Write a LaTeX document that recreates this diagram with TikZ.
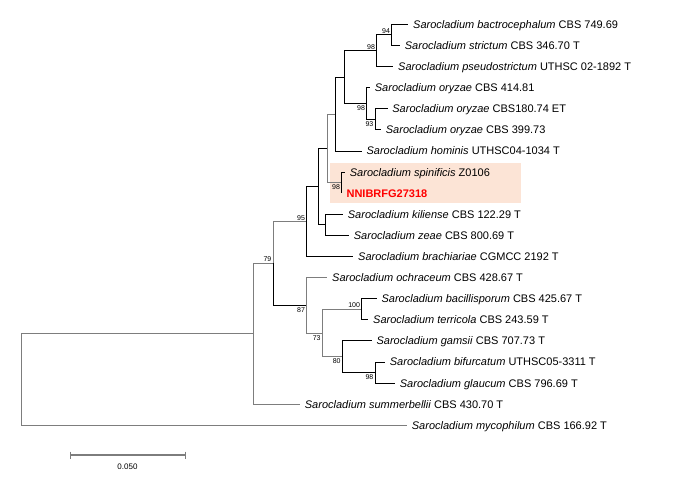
\documentclass[tikz,border=0pt]{standalone}
\usepackage{fontspec}
\setmainfont{Liberation Sans}
\definecolor{hl}{RGB}{252,228,214}
\definecolor{br}{RGB}{125,125,125}
\definecolor{nnred}{RGB}{255,0,0}
\begin{document}
\begin{tikzpicture}[x=1pt,y=-1pt,
  leaf/.style={anchor=west, inner xsep=4.7pt, inner ysep=0pt, text height=7.9pt, text depth=0pt, font=\fontsize{11}{13}\selectfont},
  bsa/.style={inner sep=0pt, anchor=south east, font=\fontsize{7}{8}\selectfont},
  bsb/.style={inner sep=0pt, anchor=north east, font=\fontsize{7}{8}\selectfont},
  edge/.style={line width=1pt, black},
  gedge/.style={line width=1pt, br}]
\useasboundingbox (0,0) rectangle (687,484);
\fill[hl] (330,162.7) rectangle (521,203.3);
% internal nodes
\coordinate (R) at (21,379.5);
\coordinate (A) at (253,333.8);
\coordinate (B) at (273,263.45);
\coordinate (C) at (306.7,221.6);
\coordinate (D) at (306.7,305.3);
\coordinate (E) at (318.3,186.6);
\coordinate (F) at (327.5,148.4);
\coordinate (G) at (325,224.85);
\coordinate (H) at (335.7,114.1);
\coordinate (I) at (344,77.2);
\coordinate (J) at (376.7,50.8);
\coordinate (K) at (366.7,103.5);
\coordinate (L) at (391.7,34.95);
\coordinate (M) at (375,119.35);
\coordinate (S) at (341.7,182.65);
\coordinate (N) at (322.3,333.0);
\coordinate (O) at (361.7,309.25);
\coordinate (P) at (342.3,356.7);
\coordinate (Q) at (375,372.55);
% leaves
\node[leaf] (l1) at (408.3,24.4) {\textit{Sarocladium bactrocephalum} CBS 749.69};
\node[leaf] (l2) at (400,45.5) {\textit{Sarocladium strictum} CBS 346.70 T};
\node[leaf] (l3) at (393.3,66.6) {\textit{Sarocladium pseudostrictum} UTHSC 02-1892 T};
\node[leaf] (l4) at (370,87.7) {\textit{Sarocladium oryzae} CBS 414.81};
\node[leaf] (l5) at (387.5,108.8) {\textit{Sarocladium oryzae} CBS180.74 ET};
\node[leaf] (l6) at (381,129.9) {\textit{Sarocladium oryzae} CBS 399.73};
\node[leaf] (l7) at (361.7,151.0) {\textit{Sarocladium hominis} UTHSC04-1034 T};
\node[leaf] (l8) at (345,172.1) {\textit{Sarocladium spinificis} Z0106};
\node[leaf, text=nnred, font=\fontsize{11}{13}\selectfont\bfseries] (l9) at (341.7,193.2) {NNIBRFG27318};
\node[leaf] (l10) at (343,214.3) {\textit{Sarocladium kiliense} CBS 122.29 T};
\node[leaf] (l11) at (349,235.4) {\textit{Sarocladium zeae} CBS 800.69 T};
\node[leaf] (l12) at (353.3,256.5) {\textit{Sarocladium brachiariae} CGMCC 2192 T};
\node[leaf] (l13) at (327.3,277.6) {\textit{Sarocladium ochraceum} CBS 428.67 T};
\node[leaf] (l14) at (376.7,298.7) {\textit{Sarocladium bacillisporum} CBS 425.67 T};
\node[leaf] (l15) at (368.3,319.8) {\textit{Sarocladium terricola} CBS 243.59 T};
\node[leaf] (l16) at (371.7,340.9) {\textit{Sarocladium gamsii} CBS 707.73 T};
\node[leaf] (l17) at (385,362.0) {\textit{Sarocladium bifurcatum} UTHSC05-3311 T};
\node[leaf] (l18) at (395,383.1) {\textit{Sarocladium glaucum} CBS 796.69 T};
\node[leaf] (l19) at (300,404.2) {\textit{Sarocladium summerbellii} CBS 430.70 T};
\node[leaf] (l20) at (407,425.3) {\textit{Sarocladium mycophilum} CBS 166.92 T};
% edges
\draw[gedge] (R) |- (A);
\draw[gedge] (R) |- (l20.west);
\draw[gedge] (A) |- (B);
\draw[gedge] (A) |- (l19.west);
\draw[gedge] (B) |- (C);
\draw[edge] (B) |- (D);
\draw[edge] (C) |- (E);
\draw[edge] (C) |- (l12.west);
\draw[edge] (E) |- (F);
\draw[edge] (E) |- (G);
\draw[edge] (G) |- (l10.west);
\draw[edge] (G) |- (l11.west);
\draw[gedge] (F) |- (H);
\draw[gedge] (F) |- (S);
\draw[edge] (S) |- (l8.west);
\draw[edge] (S) |- (l9.west);
\draw[edge] (H) |- (I);
\draw[edge] (H) |- (l7.west);
\draw[edge] (I) |- (J);
\draw[edge] (I) |- (K);
\draw[edge] (J) |- (L);
\draw[edge] (J) |- (l3.west);
\draw[edge] (L) |- (l1.west);
\draw[edge] (L) |- (l2.west);
\draw[edge] (K) |- (l4.west);
\draw[edge] (K) |- (M);
\draw[edge] (M) |- (l5.west);
\draw[edge] (M) |- (l6.west);
\draw[gedge] (D) |- (l13.west);
\draw[gedge] (D) |- (N);
\draw[gedge] (N) |- (O);
\draw[gedge] (N) |- (P);
\draw[edge] (O) |- (l14.west);
\draw[edge] (O) |- (l15.west);
\draw[edge] (P) |- (l16.west);
\draw[edge] (P) |- (Q);
\draw[edge] (Q) |- (l17.west);
\draw[edge] (Q) |- (l18.west);
% bootstrap values
\node[bsa] (bL) at ([shift={(-1.5,-1.2)}]L) {94};
\node[bsa] (bJ) at ([shift={(-1.5,-1.2)}]J) {98};
\node[bsb] (bK) at ([shift={(-1.5,2.2)}]K) {98};
\node[bsb] (bM) at ([shift={(-1.5,2.2)}]M) {93};
\node[bsb] (bS) at ([shift={(-1.5,2.2)}]S) {98};
\node[bsa] (bC) at ([shift={(-1.5,-1.2)}]C) {95};
\node[bsa] (bB) at ([shift={(-1.5,-1.2)}]B) {79};
\node[bsb] (bD) at ([shift={(-1.5,2.2)}]D) {87};
\node[bsb] (bN) at ([shift={(-1.5,2.2)}]N) {73};
\node[bsa] (bO) at ([shift={(-1.5,-1.2)}]O) {100};
\node[bsb] (bP) at ([shift={(-1.5,2.2)}]P) {80};
\node[bsb] (bQ) at ([shift={(-1.5,2.2)}]Q) {98};
% scale bar
\coordinate (sb1) at (70,455);
\coordinate (sb2) at (185,455);
\draw[br, line width=1.8pt] (sb1) -- (sb2);
\draw[br, line width=1pt] (sb1) ++(0,-3.5) -- ++(0,7);
\draw[br, line width=1pt] (sb2) ++(0,-3.5) -- ++(0,7);
\node[inner sep=0pt, font=\fontsize{8}{9}\selectfont] (sbl) at (127.5,466.5) {0.050};
\end{tikzpicture}
\end{document}
